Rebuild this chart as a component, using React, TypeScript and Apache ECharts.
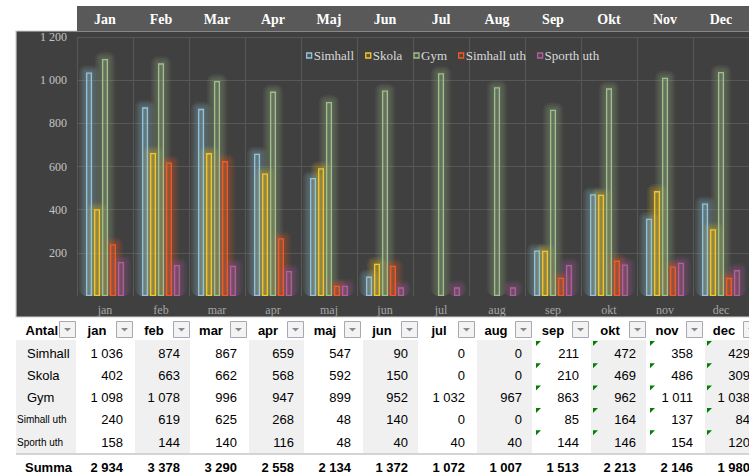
import React, { useEffect, useRef } from "react";
import * as echarts from "echarts";

const categories = ["jan", "feb", "mar", "apr", "maj", "jun", "jul", "aug", "sep", "okt", "nov", "dec"];
const headerMonths = ["Jan", "Feb", "Mar", "Apr", "Maj", "Jun", "Jul", "Aug", "Sep", "Okt", "Nov", "Dec"];
const seriesNames = ["Simhall", "Skola", "Gym", "Simhall uth", "Sporth uth"];
const simhall = [1036, 874, 867, 659, 547, 90, 0, 0, 211, 472, 358, 429];
const skola = [402, 663, 662, 568, 592, 150, 0, 0, 210, 469, 486, 309];
const gym = [1098, 1078, 996, 947, 899, 952, 1032, 967, 863, 962, 1011, 1038];
const simhallUth = [240, 619, 625, 268, 48, 140, 0, 0, 85, 164, 137, 84];
const sporthUth = [158, 144, 140, 116, 48, 40, 40, 40, 144, 146, 154, 120];
const summa = [2934, 3378, 3290, 2558, 2134, 1372, 1072, 1007, 1513, 2213, 2146, 1980];
const yTicks = [0, 200, 400, 600, 800, 1000, 1200];
const flaggedColumns = ["sep", "okt", "nov", "dec"];

const seriesData = [simhall, skola, gym, simhallUth, sporthUth];
const seriesColors = ["#93c3d9", "#f5c52a", "#9fc08c", "#f25a22", "#b0609e"];

const fmt = (n: number) => String(n).replace(/\B(?=(\d{3})+(?!\d))/g, " ");

const hexToRgba = (hex: string, a: number) => {
  const r = parseInt(hex.slice(1, 3), 16);
  const g = parseInt(hex.slice(3, 5), 16);
  const b = parseInt(hex.slice(5, 7), 16);
  return `rgba(${r},${g},${b},${a})`;
};

const SERIF = "Liberation Serif";
const SANS = "Liberation Sans";

function buildTable() {
  const els: any[] = [];
  const X0 = 16;
  const LABEL_W = 61;
  const COL_W = 57;
  const HEAD_Y = 318;
  const ROW_Y0 = 341;
  const ROW_H = 22.3;
  const SUM_LINE = 454;
  const SUM_Y = 467;
  const colX = (i: number) => X0 + LABEL_W + COL_W * i;
  const rows = seriesNames;

  els.push({ type: "rect", shape: { x: 0, y: 318, width: 749, height: 155 }, style: { fill: "#ffffff" }, z: -20 });
  els.push({ type: "rect", shape: { x: X0, y: ROW_Y0 - 1, width: LABEL_W - 1, height: ROW_H * 5 + 2 }, style: { fill: "#f0f0f0" }, z: -19 });
  categories.forEach((_, i) => {
    if (i % 2 === 1) {
      els.push({ type: "rect", shape: { x: colX(i) + 1, y: ROW_Y0 - 1, width: COL_W - 2, height: ROW_H * 5 + 2 }, style: { fill: "#f0f0f0" }, z: -19 });
    }
  });
  els.push({ type: "rect", shape: { x: X0, y: SUM_LINE - 1, width: 749 - X0, height: 2 }, style: { fill: "#d4d4d4" }, z: -18 });

  els.push({ type: "text", x: 58, y: 330, style: { text: "Antal", fill: "#000", font: `bold 13px "${SANS}"`, textAlign: "right", textVerticalAlign: "middle" }, z: 10 });
  const dropdown = (x: number) => {
    els.push({ type: "rect", shape: { x: x + 0.5, y: HEAD_Y + 3.5, width: 16, height: 16 }, style: { fill: "#f3f3f3", stroke: "#a8a8b0", lineWidth: 1 }, z: 10 });
    els.push({ type: "polygon", shape: { points: [[x + 5, HEAD_Y + 10], [x + 12, HEAD_Y + 10], [x + 8.5, HEAD_Y + 13.5]] }, style: { fill: "#8a8a8a" }, z: 11 });
  };
  dropdown(59);
  categories.forEach((c, i) => {
    const x = colX(i);
    els.push({ type: "text", x: x + 20, y: 330, style: { text: c, fill: "#000", font: `bold 13px "${SANS}"`, textAlign: "center", textVerticalAlign: "middle" }, z: 10 });
    dropdown(x + 39);
  });

  rows.forEach((r, ri) => {
    const small = r.length > 8;
    els.push({
      type: "text",
      x: small ? 17 : 27,
      y: ROW_Y0 + ROW_H * ri + 12,
      style: { text: r, fill: "#000", font: `${small ? 10 : 13}px "${SANS}"`, textAlign: "left", textVerticalAlign: "middle" },
      z: 10,
    });
  });
  els.push({ type: "text", x: 25, y: SUM_Y, style: { text: "Summa", fill: "#000", font: `bold 13px "${SANS}"`, textAlign: "left", textVerticalAlign: "middle" }, z: 10 });

  seriesData.forEach((arr, ri) => {
    arr.forEach((v, ci) => {
      els.push({
        type: "text",
        x: colX(ci) + COL_W - 11,
        y: ROW_Y0 + ROW_H * ri + 12,
        style: { text: fmt(v), fill: "#000", font: `13px "${SANS}"`, textAlign: "right", textVerticalAlign: "middle" },
        z: 10,
      });
      if (flaggedColumns.includes(categories[ci])) {
        const tx = colX(ci) + 3;
        const ty = ROW_Y0 + ROW_H * ri;
        els.push({ type: "polygon", shape: { points: [[tx, ty], [tx + 5, ty], [tx, ty + 5]] }, style: { fill: "#008000" }, z: 11 });
      }
    });
  });
  summa.forEach((v, ci) => {
    els.push({
      type: "text",
      x: colX(ci) + COL_W - 11,
      y: SUM_Y,
      style: { text: fmt(v), fill: "#000", font: `bold 13px "${SANS}"`, textAlign: "right", textVerticalAlign: "middle" },
      z: 10,
    });
  });
  return els;
}

// glow halo behind each bar, drawn through the axis scales
const BAR_W = 6;
const BAR_PITCH = 8;
function glowSeries(si: number) {
  const color = seriesColors[si];
  return {
    name: "glow " + seriesNames[si],
    type: "custom",
    silent: true,
    z: 1,
    data: seriesData[si].map((v, i) => [i, v]),
    renderItem: (params: any, api: any) => {
      const idx = api.value(0);
      const val = api.value(1);
      if (!val) return null;
      const top = api.coord([idx, val]);
      const base = api.coord([idx, 0]);
      const cx = top[0] + (si - 2) * BAR_PITCH;
      const h = base[1] - top[1];
      const layers = [7, 5.5, 4, 2.5, 1.2];
      const children = layers.map((g) => ({
        type: "rect",
        shape: { x: cx - BAR_W / 2 - g, y: top[1] - g, width: BAR_W + 2 * g, height: h + g, r: g },
        style: { fill: hexToRgba(color, 0.075) },
      }));
      return { type: "group", children };
    },
  };
}

export default function App() {
  const ref = useRef<HTMLDivElement>(null);
  useEffect(() => {
    if (!ref.current) return;
    const chart = echarts.init(ref.current, null, { renderer: "svg" });
    const option: any = {
      animation: false,
      backgroundColor: "#ffffff",
      graphic: [
        { type: "rect", shape: { x: 16, y: 31, width: 740, height: 286 }, style: { fill: "#404040", stroke: "#d0d0d0", lineWidth: 1.2 }, z: -30, silent: true },
        { type: "rect", shape: { x: 77, y: 6, width: 672, height: 25 }, style: { fill: "#595959" }, z: -30, silent: true },
        ...buildTable(),
      ],
      legend: {
        data: seriesNames,
        left: 301,
        top: 44,
        icon: "rect",
        itemWidth: 5,
        itemHeight: 5,
        itemGap: 11,
        itemStyle: { shadowBlur: 0, borderWidth: 1.3 },
        textStyle: { color: "#d9d9d9", fontFamily: SERIF, fontSize: 13, padding: [0, 0, 0, -3] },
      },
      grid: { left: 77, right: 0, top: 37, height: 259 },
      xAxis: [
        {
          type: "category",
          data: categories,
          position: "bottom",
          axisLine: { show: false },
          axisTick: { show: false },
          axisLabel: { color: "#a6a6a6", fontFamily: SERIF, fontSize: 12, margin: 14, verticalAlign: "middle" },
          splitLine: { show: true, lineStyle: { color: "#575757", width: 1 } },
        },
        {
          type: "category",
          data: headerMonths,
          position: "top",
          axisLine: { show: false },
          axisTick: { show: false },
          axisLabel: { color: "#ffffff", fontFamily: SERIF, fontSize: 14, fontWeight: "bold", margin: 18, verticalAlign: "middle" },
          splitLine: { show: false },
        },
      ],
      yAxis: {
        type: "value",
        min: yTicks[0],
        max: yTicks[yTicks.length - 1],
        interval: 200,
        axisLine: { show: false },
        axisTick: { show: false },
        axisLabel: {
          color: "#c4c4c4",
          fontFamily: SERIF,
          fontSize: 12,
          margin: 10,
          formatter: (v: number) => (v === 0 ? "" : fmt(v)),
        },
        splitLine: { lineStyle: { color: ["rgba(0,0,0,0)", "#575757", "#575757", "#575757", "#575757", "#575757", "#575757"], width: 1 } },
      },
      series: [
        ...seriesNames.map((_, i) => glowSeries(i)),
        ...seriesNames.map((name, i) => ({
          name,
          type: "bar",
          xAxisIndex: 0,
          z: 3,
          data: seriesData[i].map((v) => (v === 0 ? null : v)),
          barWidth: BAR_W,
          barGap: "33%",
          itemStyle: {
            color: hexToRgba(seriesColors[i], 0.14),
            borderColor: seriesColors[i],
            borderWidth: 1.3,
          },
        })),
      ],
    };
    chart.setOption(option);
    return () => chart.dispose();
  }, []);
  return <div ref={ref} style={{ position: "absolute", left: 0, top: 0, width: 749, height: 473 }} />;
}
